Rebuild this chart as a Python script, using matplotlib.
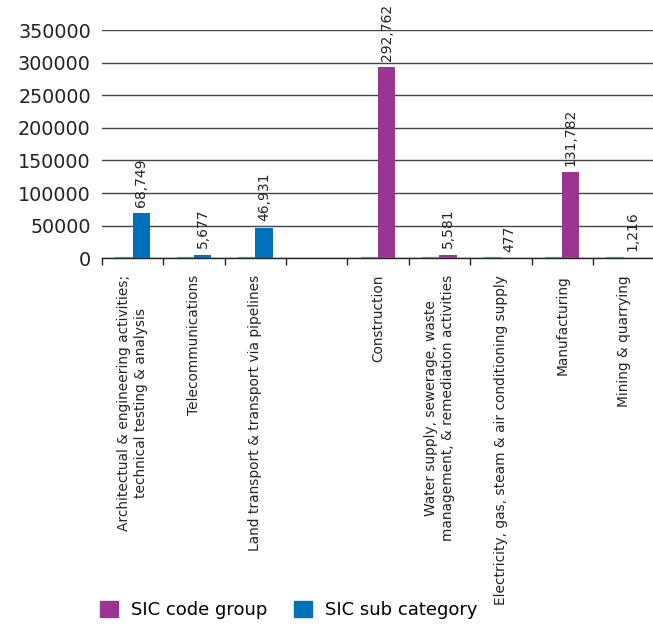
import matplotlib
matplotlib.use("Agg")
import matplotlib.pyplot as plt
from matplotlib.patches import Patch

categories = [
    "Architectual & engineering activities;\ntechnical testing & analysis",
    "Telecommunications",
    "Land transport & transport via pipelines",
    "",
    "Construction",
    "Water supply, sewerage, waste\nmanagement, & remediation activities",
    "Electricity, gas, steam & air conditioning supply",
    "Manufacturing",
    "Mining & quarrying",
]
# None = empty slot, 0 = zero baseline stub
code_group = [0, 0, 0, None, 292762, 5581, 477, 131782, 1216]
sub_category = [68749, 5677, 46931, None, 0, 0, 0, 0, 0]
yticks = [0, 50000, 100000, 150000, 200000, 250000, 300000, 350000]

purple = "#9b3592"
blue = "#0070ba"
stub = "#2aa3c6"

plt.rcParams["font.family"] = "DejaVu Sans"
fig = plt.figure(figsize=(6.53, 6.25), dpi=100)
ax = fig.add_axes([0.156, 0.5867, 0.846, 0.3653])

width = 0.28
for i, (g, s) in enumerate(zip(code_group, sub_category)):
    if g is None:
        continue
    # the populated series sits on the right, the empty one is a flat stub on the left
    if s:
        value, color = s, blue
    else:
        value, color = g, purple
    ax.bar(i - 0.14, 0, width, edgecolor=stub, linewidth=1.6, zorder=4)
    ax.bar(i + 0.14, value, width, color=color, zorder=3)
    ax.annotate(f"{value:,}", (i + 0.14, value), xytext=(0, 4.5),
                textcoords="offset points", rotation=90, ha="center",
                va="bottom", fontsize=10, color="#222222")

ax.set_xlim(-0.5, len(categories) - 0.5)
ax.set_ylim(0, 350000)
ax.set_yticks(yticks)
ax.set_yticklabels([str(t) for t in yticks], fontsize=13.8, color="#222222")
ax.tick_params(axis="y", length=0, pad=8)
ax.yaxis.grid(True, color="#444444", linewidth=1.0)
ax.set_axisbelow(True)

ax.set_xticks(range(len(categories)))
ax.set_xticklabels(categories, rotation=90, ha="center", va="top",
                   multialignment="center", fontsize=9.9, color="#222222")
ax.set_xticks([i - 0.5 for i in range(len(categories) + 1)], minor=True)
ax.tick_params(axis="x", which="major", length=0, pad=12)
ax.tick_params(axis="x", which="minor", length=5, width=1, color="#222222")

for side in ["left", "right", "top"]:
    ax.spines[side].set_visible(False)
ax.spines["bottom"].set_color("#222222")
ax.spines["bottom"].set_linewidth(1.0)

handles = [Patch(color=purple, label="SIC code group"),
           Patch(color=blue, label="SIC sub category")]
fig.legend(handles=handles, loc="center left", bbox_to_anchor=(0.128, 0.024),
           ncol=2, frameon=False, fontsize=13, handlelength=1.0,
           handleheight=1.0, handletextpad=0.7, columnspacing=1.5)

fig.savefig("out.png", dpi=100)
